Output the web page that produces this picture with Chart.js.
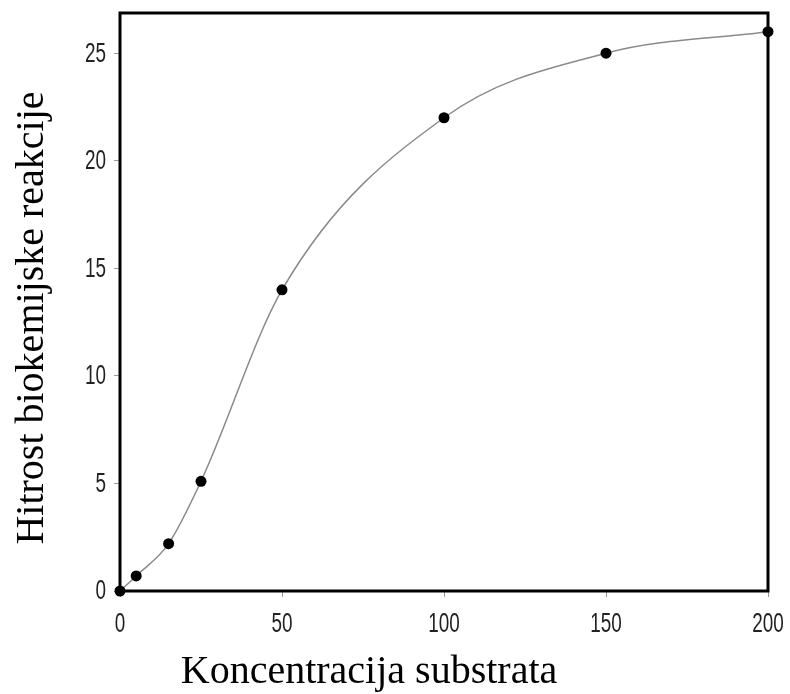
<!DOCTYPE html>
<html>
<head>
<meta charset="utf-8">
<style>
  html, body { margin: 0; padding: 0; background: #fff; }
  #wrap { width: 790px; height: 694px; position: relative; }
</style>
<script src="https://cdn.jsdelivr.net/npm/chart.js@4/dist/chart.umd.min.js"></script>
</head>
<body>
<div id="wrap"><canvas id="c" width="790" height="694"></canvas></div>
<script>
// substrate concentration and reaction rate
const concentration = [0, 5, 15, 25, 50, 100, 150, 200];
const rate = [0, 0.7, 2.2, 5.1, 14, 22, 25, 26];
const xTicks = [0, 50, 100, 150, 200];
const yTicks = [0, 5, 10, 15, 20, 25];
const xTitle = 'Koncentracija substrata';
const yTitle = 'Hitrost biokemijske reakcije';

const points = concentration.map((x, i) => ({ x: x, y: rate[i] }));

// no padding reserved for overhanging tick labels
function noPad(s) {
  s.paddingLeft = 0; s.paddingRight = 0; s.paddingTop = 0; s.paddingBottom = 0;
}

// heavy frame around the plot area, drawn under the points
const framePlugin = {
  id: 'frame',
  beforeDatasetsDraw(chart) {
    const a = chart.chartArea, ctx = chart.ctx;
    ctx.save();
    ctx.strokeStyle = '#000';
    ctx.lineWidth = 3;
    ctx.strokeRect(a.left, a.top, a.right - a.left, a.bottom - a.top);
    ctx.restore();
  }
};

// condensed tick labels, placed from the scales' own tick positions
const tickLabelPlugin = {
  id: 'condensedTicks',
  afterDraw(chart) {
    const ctx = chart.ctx;
    const xs = chart.scales.x, ys = chart.scales.y;
    ctx.save();
    ctx.fillStyle = '#222';
    ctx.font = '27px "Liberation Sans", Arial, sans-serif';
    ctx.textBaseline = 'middle';
    const put = (text, x, y, align) => {
      ctx.save();
      ctx.translate(x, y);
      ctx.scale(0.7, 1);
      ctx.textAlign = align;
      ctx.fillText(text, 0, 0);
      ctx.restore();
    };
    xs.ticks.forEach(t => put(String(t.value), xs.getPixelForValue(t.value), xs.top + 34, 'center'));
    ys.ticks.forEach(t => put(String(t.value), ys.right - 14, ys.getPixelForValue(t.value) + 1, 'right'));
    ctx.restore();
  }
};

// serif axis titles
const titlesPlugin = {
  id: 'axisTitles',
  afterDraw(chart) {
    const ctx = chart.ctx;
    ctx.save();
    ctx.fillStyle = '#000';
    ctx.font = '40px "Liberation Serif", "Times New Roman", serif';
    ctx.textAlign = 'center';
    ctx.textBaseline = 'alphabetic';
    ctx.fillText(xTitle, 369, 683);
    ctx.translate(43, 318);
    ctx.rotate(-Math.PI / 2);
    ctx.fillText(yTitle, 0, 0);
    ctx.restore();
  }
};

new Chart(document.getElementById('c'), {
  type: 'line',
  data: {
    datasets: [{
      data: points,
      borderColor: '#8a8a8a',
      borderWidth: 1.5,
      cubicInterpolationMode: 'monotone',
      pointRadius: 5.5,
      pointHoverRadius: 5.5,
      pointBackgroundColor: '#000',
      pointBorderColor: '#000',
      pointBorderWidth: 0,
      fill: false,
      clip: false
    }]
  },
  options: {
    responsive: false,
    animation: false,
    events: [],
    layout: { padding: { top: 13, right: 22, bottom: 0, left: 0 } },
    plugins: { legend: { display: false }, tooltip: { enabled: false } },
    scales: {
      x: {
        type: 'linear',
        min: 0,
        max: 200,
        afterFit(s) { s.height = 103; noPad(s); },
        afterBuildTicks(s) { s.ticks = xTicks.map(v => ({ value: v })); },
        border: { display: false },
        grid: { drawOnChartArea: false, drawTicks: true, tickLength: 6, color: '#999', tickWidth: 1 },
        ticks: { display: false }
      },
      y: {
        type: 'linear',
        min: 0,
        max: 26.87,
        afterFit(s) { s.width = 120; noPad(s); },
        afterBuildTicks(s) { s.ticks = yTicks.map(v => ({ value: v })); },
        border: { display: false },
        grid: { drawOnChartArea: false, drawTicks: true, tickLength: 6, color: '#999', tickWidth: 1 },
        ticks: { display: false }
      }
    }
  },
  plugins: [framePlugin, tickLabelPlugin, titlesPlugin]
});
</script>
</body>
</html>
